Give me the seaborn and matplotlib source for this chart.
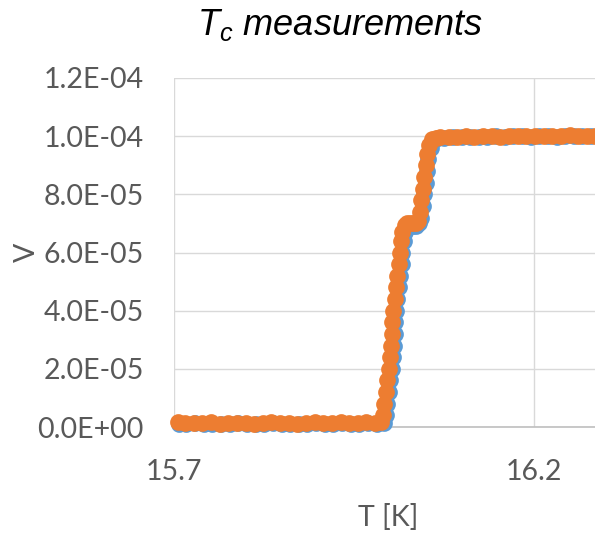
import numpy as np
import pandas as pd
import matplotlib as mpl
mpl.use('Agg')
import matplotlib.pyplot as plt
import seaborn as sns
from matplotlib.ticker import FuncFormatter

# orange series (drawn on top)
t_orange = [15.706, 15.716, 15.728, 15.740, 15.752, 15.764, 15.776, 15.788, 15.800, 15.812,
            15.824, 15.836, 15.848, 15.860, 15.872, 15.884, 15.896, 15.908, 15.920, 15.932,
            15.944, 15.956, 15.968, 15.980, 15.988,
            15.991, 15.993, 15.995, 15.997, 15.999, 16.001, 16.002, 16.003, 16.004, 16.005,
            16.007, 16.009, 16.011, 16.013, 16.014, 16.016, 16.018, 16.021, 16.025, 16.029,
            16.033, 16.037, 16.040, 16.042, 16.044, 16.046, 16.048, 16.050, 16.052, 16.055,
            16.059, 16.064,
            16.070, 16.082, 16.094, 16.106, 16.118, 16.130, 16.142, 16.154, 16.166, 16.178,
            16.190, 16.202, 16.214, 16.226, 16.238, 16.250, 16.262, 16.274, 16.286]
v_orange = [1.6e-6, 1.4e-6, 1.5e-6, 1.3e-6, 1.6e-6, 1.2e-6, 1.4e-6, 1.5e-6, 1.3e-6, 1.1e-6,
            1.4e-6, 1.6e-6, 1.3e-6, 1.5e-6, 1.2e-6, 1.4e-6, 1.7e-6, 1.5e-6, 1.3e-6, 1.6e-6,
            1.4e-6, 1.5e-6, 1.6e-6, 1.5e-6, 1.8e-6,
            4.0e-6, 8.0e-6, 1.2e-5, 1.6e-5, 2.0e-5, 2.4e-5, 2.8e-5, 3.2e-5, 3.6e-5, 4.0e-5,
            4.4e-5, 4.8e-5, 5.2e-5, 5.6e-5, 6.0e-5, 6.4e-5, 6.7e-5, 6.95e-5, 7.0e-5, 7.0e-5,
            7.0e-5, 7.0e-5, 7.1e-5, 7.4e-5, 7.8e-5, 8.2e-5, 8.6e-5, 9.0e-5, 9.4e-5, 9.7e-5,
            9.9e-5, 9.95e-5,
            9.96e-5, 9.98e-5, 9.97e-5, 1.0e-4, 9.98e-5, 9.99e-5, 1.001e-4, 9.98e-5, 1.0e-4, 1.002e-4,
            9.99e-5, 1.0e-4, 1.001e-4, 9.99e-5, 1.002e-4, 1.003e-4, 1.0e-4, 1.001e-4, 1.002e-4]

# blue series (underneath, slightly shifted)
t_blue = [15.708, 15.718, 15.730, 15.742, 15.754, 15.766, 15.778, 15.790, 15.802, 15.814,
          15.826, 15.838, 15.850, 15.862, 15.874, 15.886, 15.898, 15.910, 15.922, 15.934,
          15.946, 15.958, 15.970, 15.982, 15.992,
          15.995, 15.997, 15.999, 16.001, 16.003, 16.005, 16.006, 16.007, 16.008, 16.009,
          16.011, 16.013, 16.015, 16.017, 16.018, 16.020, 16.022, 16.025, 16.029, 16.033,
          16.037, 16.041, 16.044, 16.046, 16.048, 16.050, 16.052, 16.054, 16.057, 16.061,
          16.067,
          16.076, 16.088, 16.100, 16.112, 16.124, 16.136, 16.148, 16.160, 16.172, 16.184,
          16.196, 16.208, 16.220, 16.232, 16.244, 16.256, 16.268, 16.280, 16.292]
v_blue = [1.2e-6, 1.1e-6, 1.3e-6, 1.0e-6, 1.2e-6, 0.9e-6, 1.1e-6, 1.3e-6, 1.0e-6, 0.9e-6,
          1.2e-6, 1.3e-6, 1.0e-6, 1.2e-6, 1.0e-6, 1.1e-6, 1.4e-6, 1.2e-6, 1.0e-6, 1.3e-6,
          1.1e-6, 1.2e-6, 1.3e-6, 1.2e-6, 1.4e-6,
          4.0e-6, 8.0e-6, 1.2e-5, 1.6e-5, 2.0e-5, 2.4e-5, 2.8e-5, 3.2e-5, 3.6e-5, 4.0e-5,
          4.4e-5, 4.8e-5, 5.2e-5, 5.6e-5, 6.0e-5, 6.4e-5, 6.7e-5, 6.9e-5, 6.95e-5, 6.9e-5,
          6.9e-5, 7.0e-5, 7.2e-5, 7.6e-5, 8.0e-5, 8.4e-5, 8.8e-5, 9.2e-5, 9.6e-5, 9.85e-5,
          9.93e-5,
          9.95e-5, 9.97e-5, 9.96e-5, 9.98e-5, 9.97e-5, 9.98e-5, 9.99e-5, 9.97e-5, 9.99e-5, 1.0e-4,
          9.98e-5, 9.99e-5, 1.0e-4, 9.98e-5, 1.0e-4, 1.001e-4, 9.99e-5, 1.0e-4, 1.0e-4]

x_ticks = [15.7, 16.2]
x_ticklabels = ['15.7', '16.2']
y_ticks = [0, 2e-5, 4e-5, 6e-5, 8e-5, 1.0e-4, 1.2e-4]

sns.set_theme(style="white")
plt.rcParams['font.family'] = ['Lato', 'DejaVu Sans']
plt.rcParams['mathtext.fontset'] = 'custom'
plt.rcParams['mathtext.it'] = 'Liberation Sans:italic'
plt.rcParams['mathtext.rm'] = 'Liberation Sans:italic'

fig = plt.figure(figsize=(5.95, 5.35), dpi=100)
left, right, top, bottom = 173.5, 595, 78, 427
ax = fig.add_axes([left / 595, 1 - bottom / 535, (right - left) / 595, (bottom - top) / 535])

df_b = pd.DataFrame({'T': t_blue, 'V': v_blue})
df_o = pd.DataFrame({'T': t_orange, 'V': v_orange})
sns.scatterplot(data=df_b, x='T', y='V', color='#5B9BD5', s=145, linewidth=0, ax=ax,
                zorder=3, clip_on=False)
sns.scatterplot(data=df_o, x='T', y='V', color='#ED7D31', s=145, linewidth=0, ax=ax,
                zorder=4, clip_on=False)

ax.set_xlim(15.7, 15.7 + (right - left) / 720)
ax.set_ylim(0, 1.2e-4)
ax.set_xticks(x_ticks)
ax.set_xticklabels(x_ticklabels)
ax.set_yticks(y_ticks)
ax.yaxis.set_major_formatter(FuncFormatter(lambda v, p: f"{v:.1E}"))
ax.grid(True, color='#d9d9d9', linewidth=1.0)
ax.set_axisbelow(True)
for s in ['top', 'right', 'left']:
    ax.spines[s].set_visible(False)
ax.spines['bottom'].set_color('#bfbfbf')
ax.spines['bottom'].set_linewidth(1.2)
ax.tick_params(axis='both', length=0, labelsize=20.5, labelcolor='#595959')
ax.tick_params(axis='x', pad=23)
ax.tick_params(axis='y', pad=21.5)

ax.set_xlabel('T [K]', fontsize=20.5, color='#595959', va='center')
ax.xaxis.set_label_coords((388 - left) / (right - left), -(517 - bottom) / (bottom - top))
ax.set_ylabel('V', fontsize=20.5, color='#595959', va='center')
ax.yaxis.set_label_coords((27 - left) / (right - left), 0.5)

fig.text(340 / 595, 1 - 35 / 535, r'$T_c$ measurements', ha='center', va='baseline',
         fontsize=26, color='black', family='Liberation Sans', style='italic')

fig.savefig('out.png', dpi=100)
